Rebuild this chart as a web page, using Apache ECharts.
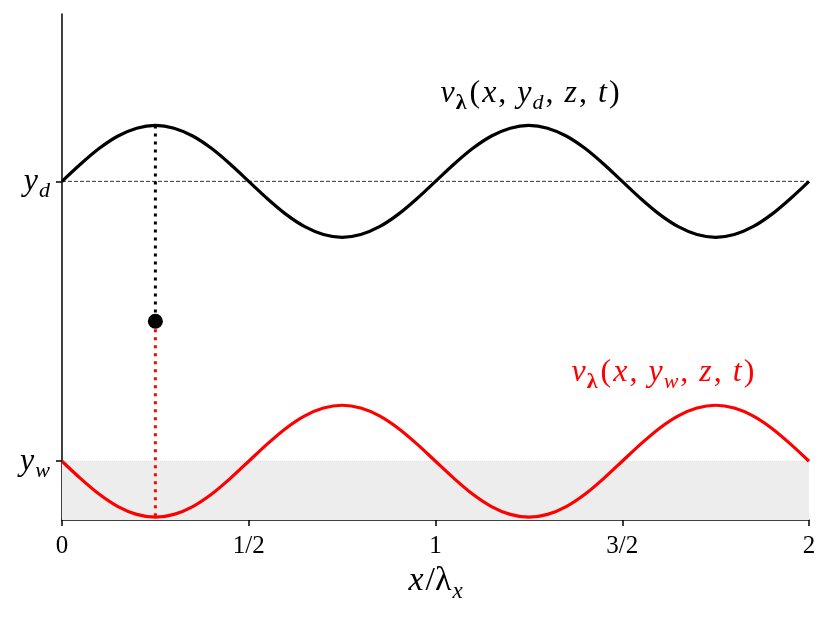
<!DOCTYPE html>
<html>
<head>
<meta charset="utf-8">
<script src="https://cdn.jsdelivr.net/npm/echarts@6/dist/echarts.min.js"></script>
<style>html,body{margin:0;padding:0;background:#fff}#c{width:830px;height:619px}</style>
</head>
<body>
<div id="c"></div>
<script>
// x positions (in units of lambda_x)
const xs = [0,0.05,0.1,0.15,0.2,0.25,0.3,0.35,0.4,0.45,0.5,0.55,0.6,0.65,0.7,0.75,0.8,0.85,0.9,0.95,
            1,1.05,1.1,1.15,1.2,1.25,1.3,1.35,1.4,1.45,1.5,1.55,1.6,1.65,1.7,1.75,1.8,1.85,1.9,1.95,2];
// velocity at y_d (black)
const vD = [6.05,6.36,6.64,6.86,7.00,7.05,7.00,6.86,6.64,6.36,6.05,5.74,5.46,5.24,5.10,5.05,5.10,5.24,5.46,5.74,
            6.05,6.36,6.64,6.86,7.00,7.05,7.00,6.86,6.64,6.36,6.05,5.74,5.46,5.24,5.10,5.05,5.10,5.24,5.46,5.74,6.05];
// velocity at y_w (red)
const vW = [1.05,0.74,0.46,0.24,0.10,0.05,0.10,0.24,0.46,0.74,1.05,1.36,1.64,1.86,2.00,2.05,2.00,1.86,1.64,1.36,
            1.05,0.74,0.46,0.24,0.10,0.05,0.10,0.24,0.46,0.74,1.05,1.36,1.64,1.86,2.00,2.05,2.00,1.86,1.64,1.36,1.05];
const yD = 6.05, yW = 1.05;
const probeX = 0.25, probeTop = 7.05, probeMid = 3.55, probeBot = 0.05;
const xTickVals = [0, 0.5, 1, 1.5, 2];
const xTickLabels = ['0', '1/2', '1', '3/2', '2'];
const labelD = {x: 1.253, y: 7.62};
const labelW = {x: 1.609, y: 2.64};

const SERIF = '"Liberation Serif", "DejaVu Serif", serif';
function richFor(color, size) {
  const sub = Math.round(size * 0.68);
  const lh = size + 10;
  return {
    i: {fontFamily: SERIF, fontStyle: 'italic', fontSize: size, color: color, lineHeight: lh, verticalAlign: 'middle', padding: [0, 1, 0, 1]},
    r: {fontFamily: SERIF, fontSize: size, color: color, lineHeight: lh, verticalAlign: 'middle', padding: [0, 1, 0, 1]},
    c: {fontFamily: SERIF, fontSize: size, color: color, lineHeight: lh, verticalAlign: 'middle', padding: [0, 10, 0, 1]},
    b: {fontFamily: SERIF, fontWeight: 'bold', fontSize: sub, color: color, lineHeight: lh, verticalAlign: 'bottom', padding: [0, 2, 0, 0]},
    s: {fontFamily: SERIF, fontStyle: 'italic', fontSize: sub, color: color, lineHeight: lh, verticalAlign: 'bottom', padding: [0, 1, 0, 0]}
  };
}

const chart = echarts.init(document.getElementById('c'), null, {renderer: 'canvas'});
const pairs = (a, b) => a.map((v, i) => [v, b[i]]);
const annot = sub => '{i|v}{b|λ}{r|(}{i|x}{c|,}{i|y}{s|' + sub + '}{c|,}{i|z}{c|,}{i|t}{r|)}';

chart.setOption({
  animation: false,
  grid: {left: 62, right: 21, top: 14, bottom: 99, containLabel: false},
  xAxis: {
    type: 'value', min: 0, max: 2, interval: 0.5,
    axisLine: {show: true, lineStyle: {color: '#000', width: 1.5}},
    axisTick: {show: true, length: 6, lineStyle: {color: '#000', width: 1.5}},
    splitLine: {show: false},
    axisLabel: {
      margin: 14, fontFamily: SERIF, fontSize: 25, color: '#000',
      formatter: v => { const k = xTickVals.indexOf(v); return k >= 0 ? xTickLabels[k] : ''; }
    },
    name: '{i|x}{r|/λ}{s|x}', nameLocation: 'middle', nameGap: 39,
    nameTextStyle: {rich: richFor('#000', 34)}
  },
  yAxis: {
    type: 'value', min: 0, max: 9.04,
    axisLine: {show: true, lineStyle: {color: '#000', width: 1.5}},
    axisTick: {show: true, length: 6, customValues: [yW, yD], lineStyle: {color: '#000', width: 1.5}},
    splitLine: {show: false},
    axisLabel: {
      margin: 11, customValues: [yW, yD],
      formatter: v => v > 3 ? '{i|y}{s|d}' : '{i|y}{s|w}',
      rich: richFor('#000', 32)
    }
  },
  series: [
    { // shaded wall region
      type: 'line', data: [[0, yW], [2, yW]], symbol: 'none', z: 1,
      lineStyle: {color: '#dedede', width: 1, type: 'dotted'},
      areaStyle: {color: '#ecedec', opacity: 1, origin: 'start'}
    },
    { // reference line y_d
      type: 'line', data: [[0, yD], [2, yD]], symbol: 'none', z: 2,
      lineStyle: {color: '#000', width: 0.8, type: [4, 2]}
    },
    {
      type: 'line', data: pairs(xs, vD), symbol: 'none', smooth: 0.3, z: 4,
      lineStyle: {color: '#000', width: 3.2}
    },
    {
      type: 'line', data: pairs(xs, vW), symbol: 'none', smooth: 0.3, z: 4,
      lineStyle: {color: '#ff0000', width: 3.2}
    },
    {
      type: 'line', data: [[probeX, probeTop], [probeX, probeMid]], symbol: 'none', z: 3,
      lineStyle: {color: '#000', width: 3, type: [3, 5], cap: 'butt'}
    },
    {
      type: 'line', data: [[probeX, probeMid], [probeX, probeBot]], symbol: 'none', z: 3,
      lineStyle: {color: '#ff0000', width: 3, type: [3, 5], cap: 'butt'}
    },
    {
      type: 'scatter', data: [[probeX, probeMid]], symbolSize: 15, z: 5,
      itemStyle: {color: '#000', opacity: 1}
    },
    {
      type: 'scatter', data: [[labelD.x, labelD.y]], symbolSize: 0, z: 6,
      itemStyle: {opacity: 1},
      label: {show: true, position: 'inside', formatter: annot('d'), rich: richFor('#000', 32)}
    },
    {
      type: 'scatter', data: [[labelW.x, labelW.y]], symbolSize: 0, z: 6,
      itemStyle: {opacity: 1},
      label: {show: true, position: 'inside', formatter: annot('w'), rich: richFor('#ff0000', 32)}
    }
  ]
});
</script>
</body>
</html>
